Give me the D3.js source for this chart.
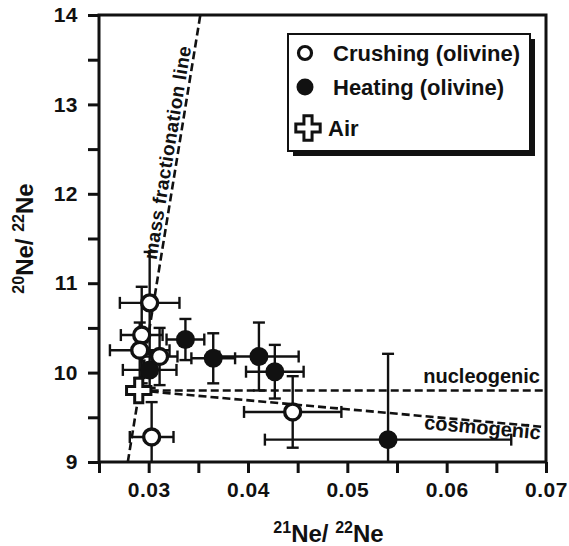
<!DOCTYPE html>
<html>
<head>
    <meta charset="utf-8">
    <title>Ne isotopes</title>
    <script type="text/javascript" src="https://cdn.jsdelivr.net/npm/d3@7"></script>
    <style>
        body { margin: 0; background: #fff; }
        text { font-family: "Liberation Sans", Arial, sans-serif; font-weight: bold; fill: #111; }
    </style>
</head>

<body>

<script type="text/javascript">
    // crushing (olivine) - open circles
    var crushX    = [0.0301, 0.0293, 0.0291, 0.0311, 0.0303, 0.0445],
        crushY    = [10.78, 10.42, 10.25, 10.18, 9.28, 9.56],
        crushXErr = [0.0030, 0.0021, 0.0030, 0.0018, 0.0022, 0.0049],
        crushYErr = [0.57, 0.54, 0.31, 0.32, 0.39, 0.40];

    // heating (olivine) - filled circles
    var heatX    = [0.0301, 0.0337, 0.0365, 0.0411, 0.0427, 0.0541],
        heatY    = [10.03, 10.37, 10.16, 10.18, 10.01, 9.25],
        heatXErr = [0.0027, 0.0019, 0.0022, 0.0040, 0.0029, 0.0124],
        heatYErr = [0.20, 0.23, 0.28, 0.38, 0.30, 0.96];

    // air
    var airX = [0.0290], airY = [9.80];

    // reference lines
    var massFracX = [0.0279, 0.0352], massFracY = [9, 14],
        nucleoX = [0.0290, 0.070], nucleoY = [9.80, 9.80],
        cosmoX = [0.0290, 0.070], cosmoY = [9.80, 9.39];

    // ticks
    var xTickValues = [0.025, 0.03, 0.035, 0.04, 0.045, 0.05, 0.055, 0.06, 0.065, 0.07],
        xTickLabels = ["", "0.03", "", "0.04", "", "0.05", "", "0.06", "", "0.07"],
        yTickValues = [9, 9.5, 10, 10.5, 11, 11.5, 12, 12.5, 13, 13.5, 14],
        yTickLabels = ["9", "", "10", "", "11", "", "12", "", "13", "", "14"];

    var legendLabels = ["Crushing (olivine)", "Heating (olivine)", "Air"];

    var _width = 569, _height = 546,
        _margins = {top: 15, left: 99, right: 23, bottom: 84};

    function quadrantWidth() { return _width - _margins.left - _margins.right; }
    function quadrantHeight() { return _height - _margins.top - _margins.bottom; }

    var x = d3.scaleLinear().domain([0.025, 0.07]).range([0, quadrantWidth()]),
        y = d3.scaleLinear().domain([9, 14]).range([quadrantHeight(), 0]);

    var svg = d3.select("body").append("svg")
            .attr("width", _width)
            .attr("height", _height);

    svg.append("defs").append("clipPath")
            .attr("id", "body-clip")
        .append("rect")
            .attr("width", quadrantWidth())
            .attr("height", quadrantHeight());

    var g = svg.append("g")
            .attr("transform", "translate(" + _margins.left + "," + _margins.top + ")");

    // axes - outward ticks, labels only on the majors
    var xAxis = d3.axisBottom(x)
            .tickValues(xTickValues)
            .tickSize(11)
            .tickPadding(5)
            .tickFormat(function (d, i) { return xTickLabels[i]; });

    var yAxis = d3.axisLeft(y)
            .tickValues(yTickValues)
            .tickSize(11)
            .tickPadding(10)
            .tickFormat(function (d, i) { return yTickLabels[i]; });

    var xg = g.append("g")
            .attr("transform", "translate(0," + quadrantHeight() + ")")
            .call(xAxis);
    var yg = g.append("g").call(yAxis);

    [xg, yg].forEach(function (a) {
        a.select(".domain").remove();
        a.selectAll(".tick line").attr("stroke", "#111").attr("stroke-width", 3);
        a.selectAll(".tick text")
            .style("font-size", "21px")
            .style("font-family", "'Liberation Sans', Arial, sans-serif")
            .style("font-weight", "bold")
            .style("letter-spacing", "0.5px")
            .attr("fill", "#111");
    });
    xg.selectAll(".tick text").attr("dy", "0.9em");

    // body, clipped to the frame
    var body = g.append("g").attr("clip-path", "url(#body-clip)");

    var line = d3.line()
            .x(function (d) { return x(d[0]); })
            .y(function (d) { return y(d[1]); });

    function dashed(xs, ys) {
        body.append("path")
            .datum(d3.zip(xs, ys))
            .attr("d", line)
            .attr("fill", "none")
            .attr("stroke", "#111")
            .attr("stroke-width", 2.6)
            .attr("stroke-dasharray", "8,4");
    }
    dashed(massFracX, massFracY);
    dashed(nucleoX, nucleoY);
    dashed(cosmoX, cosmoY);

    // error bars
    function errorBars(xs, ys, xe, ye) {
        var cap = 6;
        xs.forEach(function (xv, i) {
            var cx = x(xv), cy = y(ys[i]),
                x0 = x(xv - xe[i]), x1 = x(xv + xe[i]),
                y0 = y(ys[i] - ye[i]), y1 = y(ys[i] + ye[i]);
            var eb = body.append("g")
                    .attr("stroke", "#111")
                    .attr("stroke-width", 2.4);
            eb.append("line").attr("x1", x0).attr("x2", x1).attr("y1", cy).attr("y2", cy);
            eb.append("line").attr("x1", cx).attr("x2", cx).attr("y1", y0).attr("y2", y1);
            eb.append("line").attr("x1", x0).attr("x2", x0).attr("y1", cy - cap).attr("y2", cy + cap);
            eb.append("line").attr("x1", x1).attr("x2", x1).attr("y1", cy - cap).attr("y2", cy + cap);
            eb.append("line").attr("x1", cx - cap).attr("x2", cx + cap).attr("y1", y0).attr("y2", y0);
            eb.append("line").attr("x1", cx - cap).attr("x2", cx + cap).attr("y1", y1).attr("y2", y1);
        });
    }
    errorBars(crushX, crushY, crushXErr, crushYErr);
    errorBars(heatX, heatY, heatXErr, heatYErr);

    body.selectAll("circle.heat")
            .data(d3.zip(heatX, heatY))
        .enter().append("circle")
            .attr("class", "heat")
            .attr("cx", function (d) { return x(d[0]); })
            .attr("cy", function (d) { return y(d[1]); })
            .attr("r", 9.5)
            .attr("fill", "#111");

    body.selectAll("circle.crush")
            .data(d3.zip(crushX, crushY))
        .enter().append("circle")
            .attr("class", "crush")
            .attr("cx", function (d) { return x(d[0]); })
            .attr("cy", function (d) { return y(d[1]); })
            .attr("r", 8)
            .attr("fill", "#fff")
            .attr("stroke", "#111")
            .attr("stroke-width", 3.4);

    var cross = d3.symbol().type(d3.symbolCross).size(330);

    body.selectAll("path.air")
            .data(d3.zip(airX, airY))
        .enter().append("path")
            .attr("class", "air")
            .attr("d", cross)
            .attr("transform", function (d) { return "translate(" + x(d[0]) + "," + y(d[1]) + ")"; })
            .attr("fill", "#fff")
            .attr("stroke", "#111")
            .attr("stroke-width", 3);

    // line labels, rotated along the lines
    function angleOf(xs, ys) {
        return Math.atan2(y(ys[1]) - y(ys[0]), x(xs[1]) - x(xs[0])) * 180 / Math.PI;
    }

    // point on the mass fractionation line at a given y
    function massFracAt(v) {
        var t = (v - massFracY[0]) / (massFracY[1] - massFracY[0]);
        return massFracX[0] + t * (massFracX[1] - massFracX[0]);
    }

    var mfAngle = angleOf(massFracX, massFracY);
    var mfV = 12.45;
    g.append("text")
            .attr("transform", "translate(" + (x(massFracAt(mfV)) - 4) + "," + y(mfV) + ") rotate(" + mfAngle + ")")
            .attr("text-anchor", "middle")
            .style("font-size", "19px")
            .style("letter-spacing", "0.4px")
            .text("mass fractionation line");

    g.append("text")
            .attr("x", quadrantWidth() - 6)
            .attr("y", y(9.8) - 7)
            .attr("text-anchor", "end")
            .style("font-size", "20px")
            .text("nucleogenic");

    var cAngle = angleOf(cosmoX, cosmoY);
    g.append("text")
            .attr("transform", "translate(" + (quadrantWidth() - 6) + "," + (y(9.42) + 15) + ") rotate(" + cAngle + ")")
            .attr("text-anchor", "end")
            .style("font-size", "20px")
            .text("cosmogenic");

    // frame
    g.append("rect")
            .attr("width", quadrantWidth())
            .attr("height", quadrantHeight())
            .attr("fill", "none")
            .attr("stroke", "#111")
            .attr("stroke-width", 3);

    // legend with drop shadow
    var lg = svg.append("g").attr("transform", "translate(288,34)");
    lg.append("rect").attr("x", 5).attr("y", 5).attr("width", 242).attr("height", 117).attr("fill", "#111");
    lg.append("rect").attr("width", 242).attr("height", 117)
            .attr("fill", "#fff").attr("stroke", "#111").attr("stroke-width", 2);

    var rowY = [19, 53, 94];
    lg.append("circle").attr("cx", 17).attr("cy", rowY[0]).attr("r", 6.5)
            .attr("fill", "#fff").attr("stroke", "#111").attr("stroke-width", 3.2);
    lg.append("circle").attr("cx", 17).attr("cy", rowY[1]).attr("r", 8.5).attr("fill", "#111");
    lg.append("path").attr("d", cross)
            .attr("transform", "translate(20," + rowY[2] + ")")
            .attr("fill", "#fff").attr("stroke", "#111").attr("stroke-width", 3);

    lg.selectAll("text.leg")
            .data(legendLabels)
        .enter().append("text")
            .attr("class", "leg")
            .attr("x", function (d, i) { return i == 2 ? 40 : 45; })
            .attr("y", function (d, i) { return rowY[i]; })
            .attr("dy", "0.36em")
            .style("font-size", "22px")
            .text(function (d) { return d; });

    // axis titles with superscripts
    var xt = svg.append("text")
            .attr("x", _margins.left + quadrantWidth() / 2 + 6)
            .attr("y", 542)
            .attr("text-anchor", "middle")
            .style("font-size", "24px");
    xt.append("tspan").attr("dy", "-9").style("font-size", "16px").text("21");
    xt.append("tspan").attr("dy", "9").text("Ne/ ");
    xt.append("tspan").attr("dy", "-9").style("font-size", "16px").text("22");
    xt.append("tspan").attr("dy", "9").text("Ne");

    var yt = svg.append("text")
            .attr("transform", "translate(33," + (_margins.top + quadrantHeight() / 2) + ") rotate(-90)")
            .attr("text-anchor", "middle")
            .style("font-size", "24px");
    yt.append("tspan").attr("dy", "-9").style("font-size", "16px").text("20");
    yt.append("tspan").attr("dy", "9").text("Ne/ ");
    yt.append("tspan").attr("dy", "-9").style("font-size", "16px").text("22");
    yt.append("tspan").attr("dy", "9").text("Ne");
</script>

</body>

</html>
